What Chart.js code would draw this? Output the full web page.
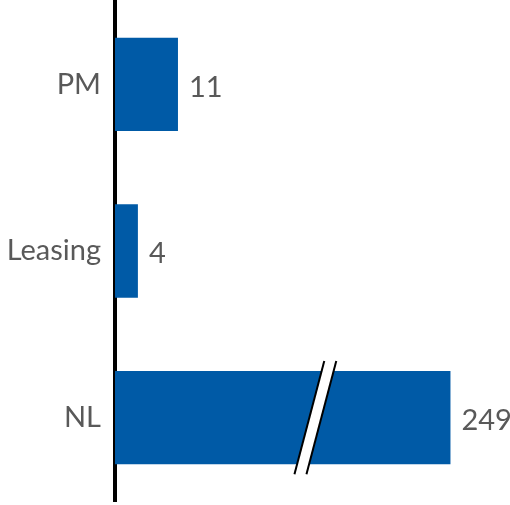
<!DOCTYPE html>
<html><head><meta charset="utf-8">
<script src="https://cdn.jsdelivr.net/npm/chart.js@4/dist/chart.umd.min.js"></script>
<style>html,body{margin:0;padding:0;background:#fff}#wrap{width:510px;height:505px}</style>
</head><body><div id="wrap"><canvas id="c"></canvas></div>
<script>
const categories = ['PM', 'Leasing', 'NL'];
const values = [11, 4, 249];
// axis break: values above this are drawn shortened with a break mark
const breakCap = 58.6;
const breakMarkAt = 35;
const xMax = 69;

const plotted = values.map(v => Math.min(v, breakCap));
const FONT = 'Lato, "Open Sans", sans-serif';

const overlay = {
  id: 'overlay',
  afterDatasetsDraw(chart) {
    const ctx = chart.ctx;
    const meta = chart.getDatasetMeta(0);
    const xs = chart.scales.x;
    ctx.save();
    meta.data.forEach((bar, i) => {
      ctx.fillStyle = '#595959';
      ctx.font = '29px ' + FONT;
      ctx.textAlign = 'left';
      ctx.textBaseline = 'middle';
      ctx.fillText(String(values[i]), bar.x + 11, bar.y + 3);
      if (values[i] > breakCap) {
        const cx = xs.getPixelForValue(breakMarkAt);
        const h = bar.height / 2 + 10;
        const dx = 30 * h / 114;
        const gap = 6;
        ctx.fillStyle = '#fff';
        ctx.beginPath();
        ctx.moveTo(cx - gap + dx, bar.y - h);
        ctx.lineTo(cx + gap + dx, bar.y - h);
        ctx.lineTo(cx + gap - dx, bar.y + h);
        ctx.lineTo(cx - gap - dx, bar.y + h);
        ctx.closePath();
        ctx.fill();
        ctx.strokeStyle = '#000';
        ctx.lineWidth = 2;
        [-gap, gap].forEach(o => {
          ctx.beginPath();
          ctx.moveTo(cx + o + dx, bar.y - h);
          ctx.lineTo(cx + o - dx, bar.y + h);
          ctx.stroke();
        });
      }
    });
    ctx.restore();
  }
};

new Chart(document.getElementById('c'), {
  type: 'bar',
  data: {
    labels: categories,
    datasets: [{
      data: plotted,
      backgroundColor: '#005AA6',
      categoryPercentage: 0.56,
      barPercentage: 1
    }]
  },
  options: {
    indexAxis: 'y',
    responsive: true,
    maintainAspectRatio: false,
    animation: false,
    layout: { padding: { top: 1, bottom: 4, left: 0, right: 0 } },
    plugins: { legend: { display: false }, tooltip: { enabled: false } },
    scales: {
      x: { display: false, min: 0, max: xMax },
      y: {
        grid: { display: false, drawTicks: false },
        border: { display: true, color: '#000', width: 4 },
        ticks: { color: '#595959', font: { family: FONT, size: 29 }, padding: 14 },
        afterFit: s => { s.paddingTop = 0; s.paddingBottom = 0; s.width = 115; }
      }
    }
  },
  plugins: [overlay]
});
</script></body></html>
